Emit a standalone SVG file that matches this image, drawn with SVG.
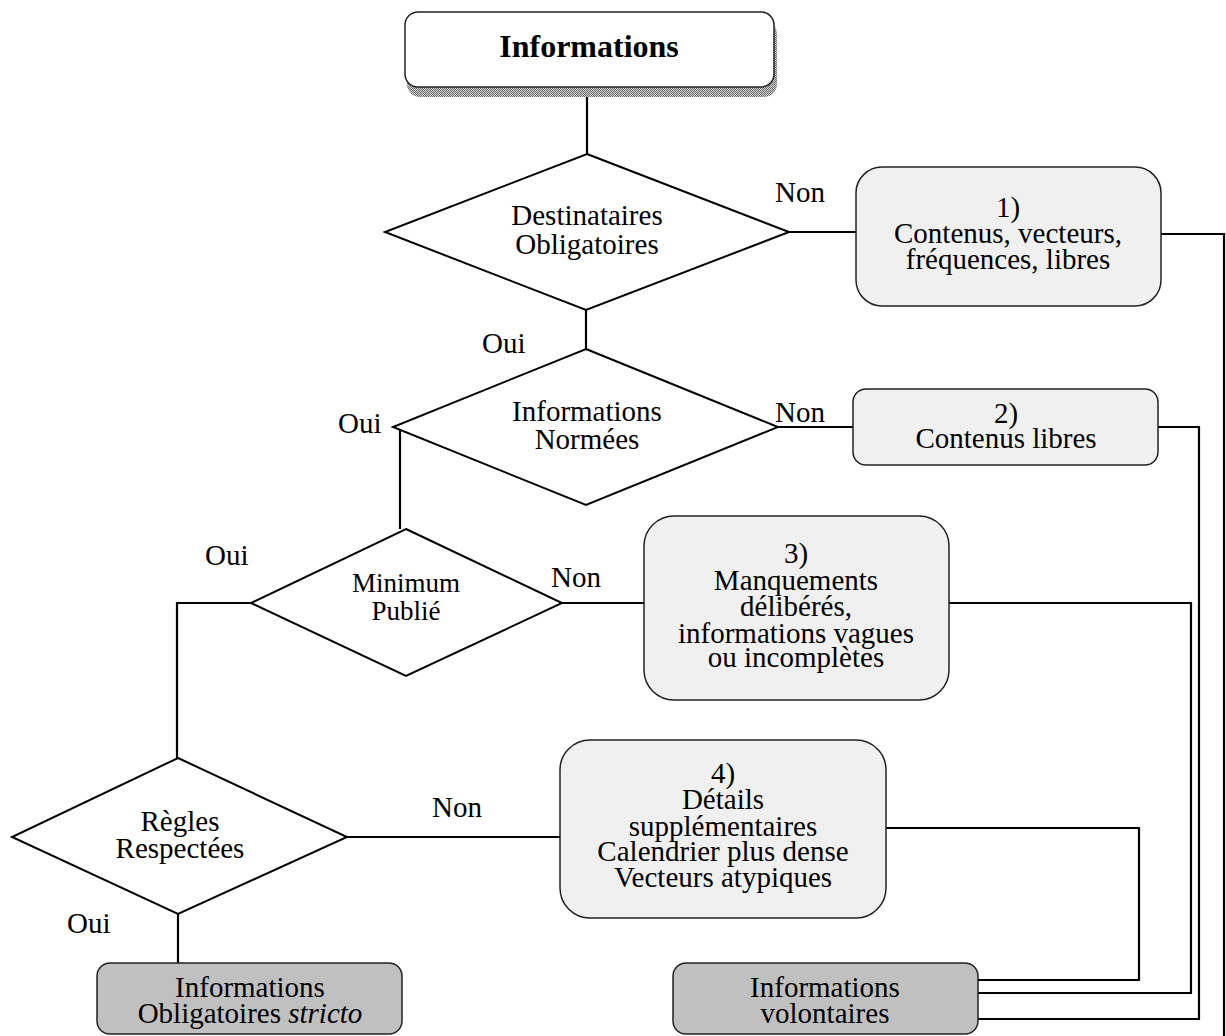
<svg xmlns="http://www.w3.org/2000/svg" width="1226" height="1036" viewBox="0 0 1226 1036" font-family="'Liberation Serif', 'Times New Roman', Times, 'DejaVu Serif', serif">
<style>
text{font-family:'Liberation Serif','Times New Roman',Times,'DejaVu Serif',serif;font-size:29px;fill:#000}
.c{text-anchor:middle}
.dia{fill:#fff;stroke:#000;stroke-width:2}
.box{fill:#f0f0f0;stroke:#222;stroke-width:1.5}
.dark{fill:#c0c0c0;stroke:#222;stroke-width:1.5}
.ln{fill:none;stroke:#000;stroke-width:2.2}
</style>
<defs>
<pattern id="hatch" width="2" height="2" patternUnits="userSpaceOnUse">
<rect width="2" height="2" fill="#cfcfcf"/>
<rect width="1" height="1" fill="#6e6e6e"/>
<rect x="1" y="1" width="1" height="1" fill="#6e6e6e"/>
</pattern>
</defs>
<rect width="1226" height="1036" fill="#fff"/>
<g id="connectors">
<path class="ln" d="M587 96 V154"/>
<path class="ln" d="M586 310 V349"/>
<path class="ln" d="M789 232 H856"/>
<path class="ln" d="M778 427 H853"/>
<path class="ln" d="M1161 234 H1224 V1036"/>
<path class="ln" d="M1158 427 H1199 V1019 H978"/>
<path class="ln" d="M949 603 H1191 V993 H978"/>
<path class="ln" d="M886 828 H1139 V980 H978"/>
<path class="ln" d="M400 428 V529"/>
<path class="ln" d="M562 603 H644"/>
<path class="ln" d="M251 603 H177 V758"/>
<path class="ln" d="M347 837 H560"/>
<path class="ln" d="M178 914 V963"/>
</g>
<g id="labels">
<text x="775" y="202">Non</text>
<text x="482" y="353">Oui</text>
<text x="338" y="433">Oui</text>
<text x="775" y="422">Non</text>
<text x="205" y="565">Oui</text>
<text x="551" y="587">Non</text>
<text x="432" y="817">Non</text>
<text x="67" y="933">Oui</text>
</g>
<g id="n_informations">
<rect x="407" y="21" width="370" height="76" rx="13" fill="url(#hatch)"/>
<rect x="405" y="12" width="369" height="75" rx="13" fill="#fff" stroke="#222" stroke-width="1.5"/>
<text class="c" x="589" y="57" style="font-weight:bold;font-size:32px">Informations</text>
</g>
<g id="d_destinataires">
<polygon class="dia" points="587,154 789,232 586,310 385,232"/>
<text class="c" x="587" y="225">Destinataires</text>
<text class="c" x="587" y="254">Obligatoires</text>
</g>
<g id="b_1">
<rect class="box" x="856" y="167" width="305" height="139" rx="26"/>
<text class="c" x="1008" y="217">1)</text>
<text class="c" x="1008" y="243">Contenus, vecteurs,</text>
<text class="c" x="1008" y="269">fréquences, libres</text>
</g>
<g id="d_normees">
<polygon class="dia" points="586,349 778,427 586,505 393,427"/>
<text class="c" x="587" y="421">Informations</text>
<text class="c" x="587" y="449">Normées</text>
</g>
<g id="b_2">
<rect class="box" x="853" y="389" width="305" height="76" rx="13"/>
<text class="c" x="1006" y="423">2)</text>
<text class="c" x="1006" y="448">Contenus libres</text>
</g>
<g id="d_minimum">
<polygon class="dia" points="406,529 562,603 406,676 251,603"/>
<text class="c" x="406" y="592" style="font-size:27px">Minimum</text>
<text class="c" x="406" y="620" style="font-size:27px">Publié</text>
</g>
<g id="b_3">
<rect class="box" x="644" y="516" width="305" height="184" rx="30"/>
<text class="c" x="796" y="563">3)</text>
<text class="c" x="796" y="590">Manquements</text>
<text class="c" x="796" y="616">délibérés,</text>
<text class="c" x="796" y="643">informations vagues</text>
<text class="c" x="796" y="667">ou incomplètes</text>
</g>
<g id="d_regles">
<polygon class="dia" points="178,758 347,837 178,914 12,837"/>
<text class="c" x="180" y="831">Règles</text>
<text class="c" x="180" y="858">Respectées</text>
</g>
<g id="b_4">
<rect class="box" x="560" y="740" width="326" height="178" rx="30"/>
<text class="c" x="723" y="783">4)</text>
<text class="c" x="723" y="809">Détails</text>
<text class="c" x="723" y="836">supplémentaires</text>
<text class="c" x="723" y="861">Calendrier plus dense</text>
<text class="c" x="723" y="887">Vecteurs atypiques</text>
</g>
<g id="b_stricto">
<rect class="dark" x="97" y="963" width="305" height="71" rx="13"/>
<text class="c" x="250" y="997">Informations</text>
<text class="c" x="250" y="1023">Obligatoires <tspan font-style="italic">stricto</tspan></text>
</g>
<g id="b_volontaires">
<rect class="dark" x="673" y="963" width="305" height="71" rx="13"/>
<text class="c" x="825" y="997">Informations</text>
<text class="c" x="825" y="1023">volontaires</text>
</g>
</svg>
